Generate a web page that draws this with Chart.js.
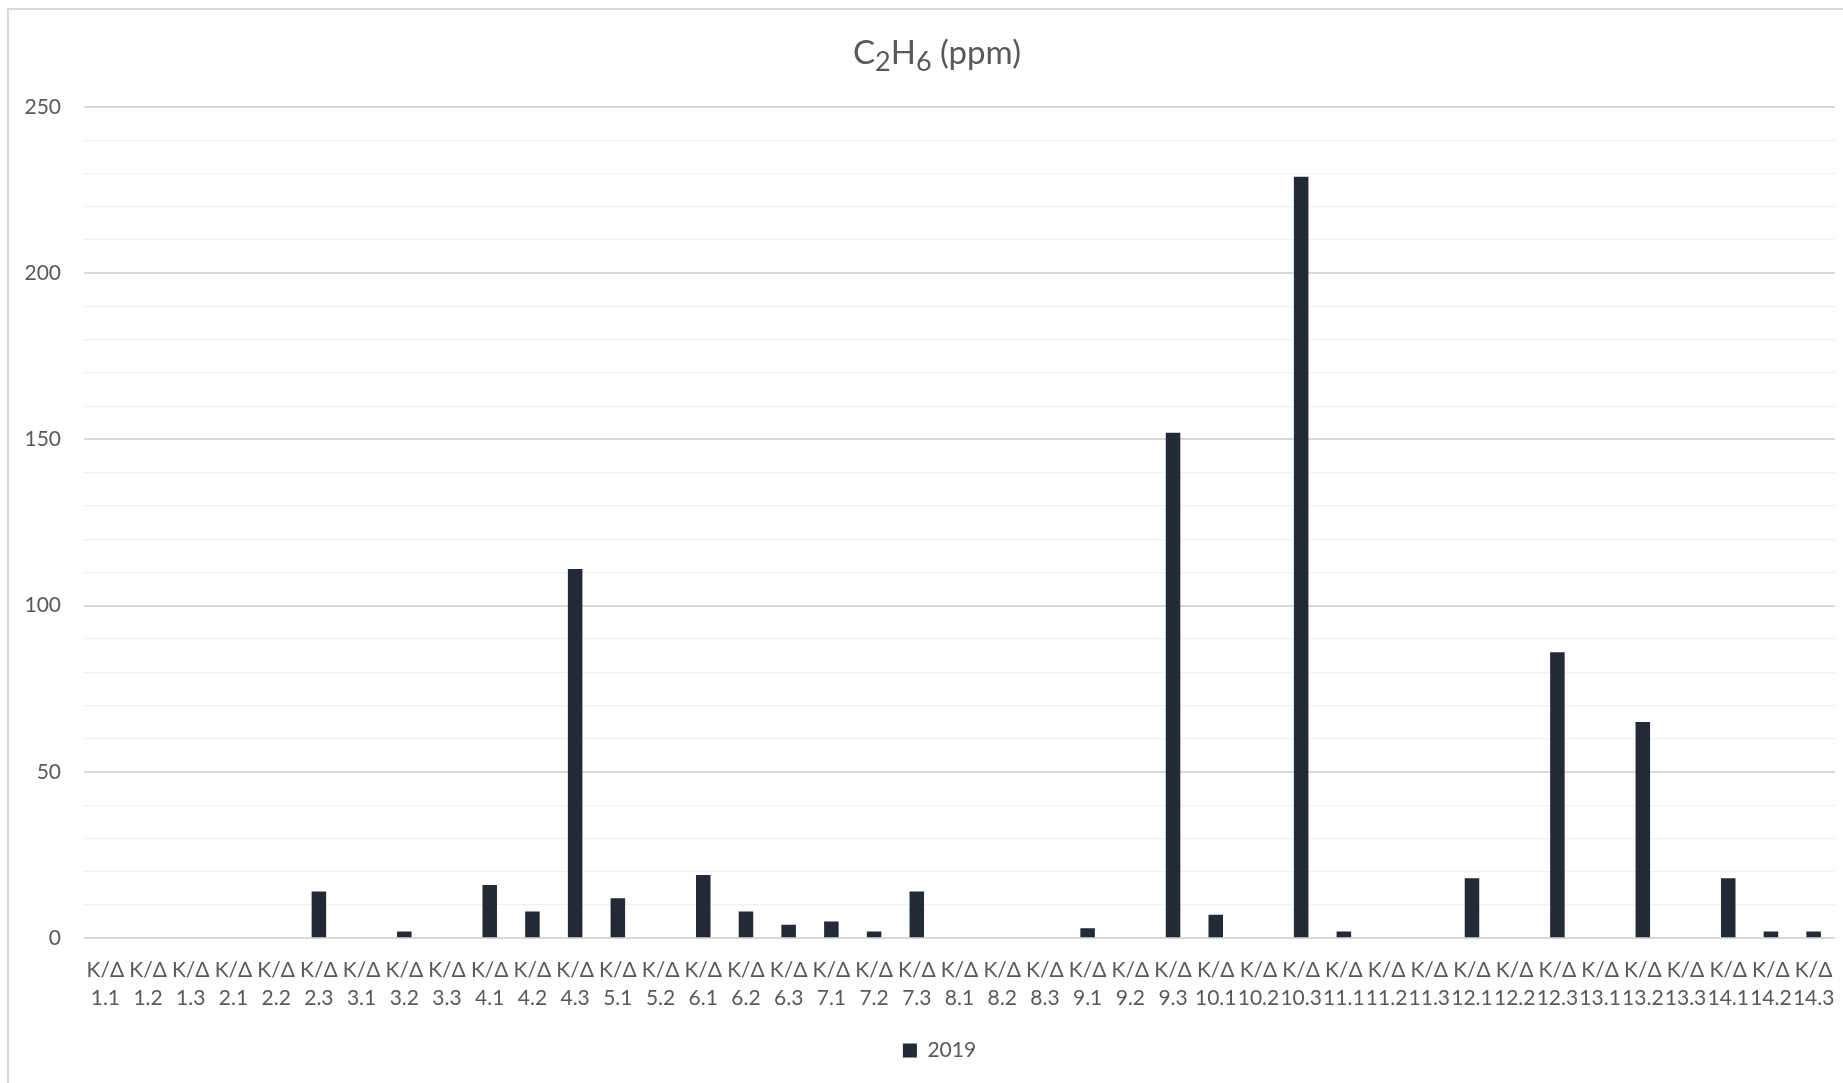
<!DOCTYPE html>
<html>
<head>
<meta charset="utf-8">
<script src="https://cdn.jsdelivr.net/npm/chart.js@4/dist/chart.umd.min.js"></script>
<style>
  html, body { margin: 0; padding: 0; background: #ffffff; overflow: hidden; width: 1843px; height: 1083px; }
  #frame { position: absolute; left: 7px; top: 8px; width: 1900px; height: 1100px; border-left: 2px solid #d9d9d9; border-top: 2px solid #d9d9d9; box-sizing: border-box; }
  #c { position: absolute; left: 0; top: 0; }
</style>
</head>
<body>
<div id="frame"></div>
<canvas id="c" width="1874" height="1083"></canvas>
<script>
const titleParts = [
  { text: 'C', sub: false },
  { text: '2', sub: true },
  { text: 'H', sub: false },
  { text: '6', sub: true },
  { text: ' (ppm)', sub: false }
];
const labelPrefix = 'K/Δ';
const categories = ['1.1','1.2','1.3','2.1','2.2','2.3','3.1','3.2','3.3','4.1','4.2','4.3','5.1','5.2','6.1','6.2','6.3','7.1','7.2','7.3','8.1','8.2','8.3','9.1','9.2','9.3','10.1','10.2','10.3','11.1','11.2','11.3','12.1','12.2','12.3','13.1','13.2','13.3','14.1','14.2','14.3'];
const seriesName = '2019';
const values2019 = [0,0,0,0,0,14,0,2,0,16,8,111,12,0,19,8,4,5,2,14,0,0,0,3,0,152,7,0,229,2,0,0,18,0,86,0,65,0,18,2,2];
const yTickLabels = [0, 50, 100, 150, 200, 250];

const FONT = 'Lato, "Open Sans", "Noto Sans", sans-serif';
const TEXT_COLOR = '#595959';
const BAR_COLOR = '#232a35';

const richTitle = {
  id: 'richTitle',
  afterDraw(chart) {
    const ctx = chart.ctx;
    ctx.save();
    const mainFont = '33px ' + FONT;
    const subFont = '27px ' + FONT;
    let total = 0;
    const widths = titleParts.map(p => {
      ctx.font = p.sub ? subFont : mainFont;
      const w = ctx.measureText(p.text).width;
      total += w;
      return w;
    });
    let x = 937 - total / 2;
    const baseY = 64;
    ctx.fillStyle = TEXT_COLOR;
    ctx.textBaseline = 'alphabetic';
    ctx.textAlign = 'left';
    titleParts.forEach((p, i) => {
      ctx.font = p.sub ? subFont : mainFont;
      ctx.fillText(p.text, x, p.sub ? baseY + 7 : baseY);
      x += widths[i];
    });
    ctx.restore();
  }
};

const legendShift = {
  id: 'legendShift',
  afterLayout(chart) {
    const lg = chart.legend;
    if (lg) { lg.left += 22; lg.right += 22; }
  }
};

new Chart(document.getElementById('c'), {
  type: 'bar',
  data: {
    labels: categories.map(c => [labelPrefix, c]),
    datasets: [{
      label: seriesName,
      data: values2019,
      backgroundColor: BAR_COLOR,
      borderWidth: 0,
      categoryPercentage: 1.0,
      barPercentage: 0.34
    }]
  },
  options: {
    responsive: false,
    animation: false,
    devicePixelRatio: 1,
    layout: { padding: { top: 107, right: 39, bottom: 12, left: 0 } },
    plugins: {
      title: { display: false },
      tooltip: { enabled: false },
      legend: {
        display: true,
        position: 'bottom',
        labels: {
          boxWidth: 14,
          boxHeight: 14,
          color: TEXT_COLOR,
          font: { family: FONT, size: 21 },
          padding: 10
        }
      }
    },
    scales: {
      x: {
        grid: { display: false, drawTicks: false },
        border: { display: false },
        ticks: {
          autoSkip: false,
          maxRotation: 0,
          minRotation: 0,
          padding: 18,
          color: TEXT_COLOR,
          font: { family: FONT, size: 21, lineHeight: 1.33 }
        }
      },
      y: {
        min: 0,
        max: 250,
        border: { display: false },
        grid: {
          drawTicks: false,
          color: ctx => (ctx.tick && yTickLabels.includes(ctx.tick.value)) ? '#d9d9d9' : '#f0f0f0',
          lineWidth: ctx => (ctx.tick && yTickLabels.includes(ctx.tick.value)) ? 2 : 1.3
        },
        ticks: {
          stepSize: 10,
          padding: 23,
          color: TEXT_COLOR,
          font: { family: FONT, size: 21 },
          callback: v => yTickLabels.includes(v) ? String(v) : ''
        },
        afterFit(scale) { scale.width = 84; }
      }
    }
  },
  plugins: [richTitle, legendShift]
});
</script>
</body>
</html>
